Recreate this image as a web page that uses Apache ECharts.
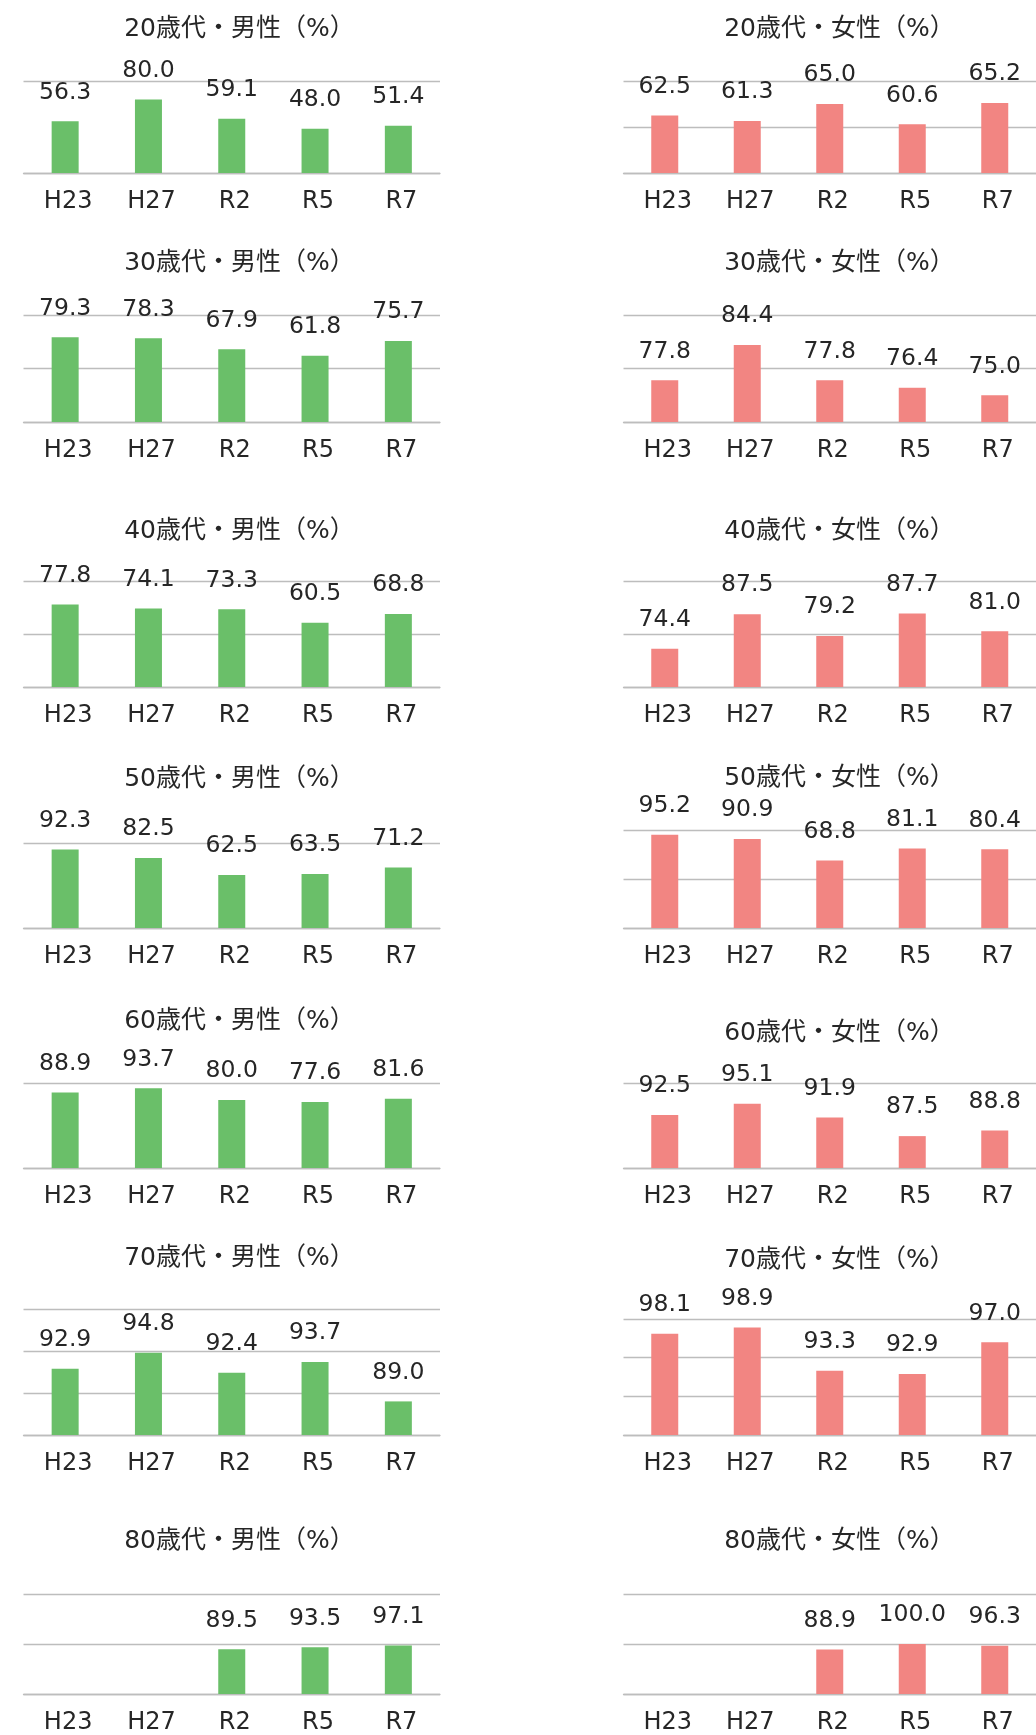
<!DOCTYPE html>
<html><head><meta charset="utf-8">
<script src="https://cdn.jsdelivr.net/npm/echarts@6/dist/echarts.min.js"></script>
<style>html,body{margin:0;padding:0;background:#fff}#c{width:1036px;height:1735px}</style>
</head><body><div id="c"></div>
<script>
const categories = ['H23','H27','R2','R5','R7'];
const maleTitles = ['20歳代・男性（%）','30歳代・男性（%）','40歳代・男性（%）','50歳代・男性（%）','60歳代・男性（%）','70歳代・男性（%）','80歳代・男性（%）'];
const femaleTitles = ['20歳代・女性（%）','30歳代・女性（%）','40歳代・女性（%）','50歳代・女性（%）','60歳代・女性（%）','70歳代・女性（%）','80歳代・女性（%）'];

const male20 = [56.3, 80.0, 59.1, 48.0, 51.4];
const male30 = [79.3, 78.3, 67.9, 61.8, 75.7];
const male40 = [77.8, 74.1, 73.3, 60.5, 68.8];
const male50 = [92.3, 82.5, 62.5, 63.5, 71.2];
const male60 = [88.9, 93.7, 80.0, 77.6, 81.6];
const male70 = [92.9, 94.8, 92.4, 93.7, 89.0];
const male80 = [null, null, 89.5, 93.5, 97.1];

const female20 = [62.5, 61.3, 65.0, 60.6, 65.2];
const female30 = [77.8, 84.4, 77.8, 76.4, 75.0];
const female40 = [74.4, 87.5, 79.2, 87.7, 81.0];
const female50 = [95.2, 90.9, 68.8, 81.1, 80.4];
const female60 = [92.5, 95.1, 91.9, 87.5, 88.8];
const female70 = [98.1, 98.9, 93.3, 92.9, 97.0];
const female80 = [null, null, 88.9, 100.0, 96.3];

// value-axis ticks (min, max, interval) per panel
const maleAxisMin = [0, 0, 0, 0, 0, 85, 0];
const maleAxisMax = [100, 100, 100, 100, 100, 100, 200];
const maleAxisStep = [100, 50, 50, 100, 100, 5, 100];
const femaleAxisMin = [50, 70, 60, 0, 80, 85, 0];
const femaleAxisMax = [70, 90, 100, 100, 100, 100, 200];
const femaleAxisStep = [10, 10, 20, 50, 20, 5, 100];

const maleData = [male20, male30, male40, male50, male60, male70, male80];
const femaleData = [female20, female30, female40, female50, female60, female70, female80];

// layout
const maleTop = [81, 315, 581, 843, 1083, 1309, 1594];
const femaleTop = [81, 315, 581, 830, 1083, 1319, 1594];
const panelBottom = [173, 422, 687, 928, 1168, 1435, 1697];
const maleTitleY = [28, 262, 530, 778, 1020, 1257, 1540];
const femaleTitleY = [28, 262, 530, 777, 1032, 1259, 1540];

const FONT = '"DejaVu Sans", "Noto Sans CJK JP", sans-serif';
const GREEN = '#6abf69';
const PINK = '#f28582';
const GRID = '#bdbdbd';
const TEXT = '#262626';

const titles = [], grids = [], xAxes = [], yAxes = [], series = [];
function addPanel(left, top, bottom, titleY, title, data, min, max, step, color) {
  const idx = grids.length;
  grids.push({left: left, top: top, width: 416.5, height: bottom - top, containLabel: false});
  titles.push({text: title, left: left + 211, top: titleY - 16, textAlign: 'center',
    textStyle: {fontFamily: FONT, fontSize: 25, fontWeight: 'normal', color: TEXT}});
  xAxes.push({type: 'category', gridIndex: idx, data: categories,
    axisLine: {show: true, lineStyle: {color: GRID, width: 1.3}}, axisTick: {show: false},
    axisLabel: {fontFamily: FONT, fontSize: 24, color: TEXT, margin: 17, padding: [0, 0, 0, 6]}});
  yAxes.push({type: 'value', gridIndex: idx, min: min, max: max, interval: step,
    axisLine: {show: false}, axisTick: {show: false}, axisLabel: {show: false},
    splitLine: {show: true, lineStyle: {color: GRID, width: 1.3}}});
  series.push({type: 'bar', xAxisIndex: idx, yAxisIndex: idx, data: data, barWidth: 27,
    itemStyle: {color: color},
    label: {show: true, position: 'top', distance: 17, fontFamily: FONT, fontSize: 23.5, color: TEXT,
      formatter: p => (p.value == null ? '' : Number(p.value).toFixed(1))}});
}
for (let i = 0; i < 7; i++) {
  addPanel(23.5, maleTop[i], panelBottom[i], maleTitleY[i], maleTitles[i], maleData[i],
    maleAxisMin[i], maleAxisMax[i], maleAxisStep[i], GREEN);
  addPanel(623.5, femaleTop[i], panelBottom[i], femaleTitleY[i], femaleTitles[i], femaleData[i],
    femaleAxisMin[i], femaleAxisMax[i], femaleAxisStep[i], PINK);
}
const chart = echarts.init(document.getElementById('c'), null, {renderer: 'canvas'});
chart.setOption({animation: false, backgroundColor: '#fff', title: titles, grid: grids,
  xAxis: xAxes, yAxis: yAxes, series: series});
</script></body></html>
